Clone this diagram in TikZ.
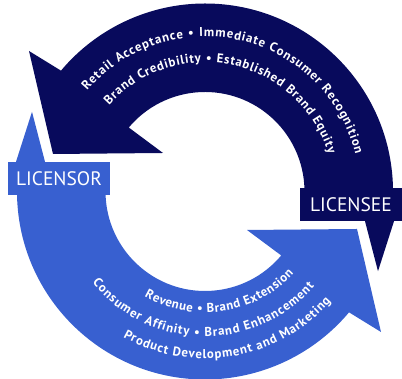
\documentclass[tikz,border=0pt]{standalone}
\usepackage{fontspec}
\setmainfont{PT Sans}
\usetikzlibrary{decorations.text}
\definecolor{navy}{RGB}{8,10,92}
\definecolor{royal}{RGB}{56,96,208}
\newcommand\arcfont{\fontsize{12.8}{12.8}\selectfont\bfseries}
\begin{document}
\begin{tikzpicture}[x=1pt,y=1pt,
  callout/.style={fill=#1, text=white, minimum width=102pt, minimum height=33pt,
    inner sep=0pt, font=\fontsize{19.5}{19.5}\selectfont},
  curved/.style={decorate, decoration={text along path, text color=white,
    text align=fit to path, text={|\arcfont|#1}}}]
\useasboundingbox (0,0) rectangle (402,379);
\begin{scope}[shift={(205,187.5)}]
  % upper (licensee) arrow
  \fill[navy] (0:188) arc[start angle=0, end angle=140, radius=188]
    -- (-176,140.5) -- (-152,37.5) -- (-42,38.5) -- (140:99.5)
    arc[start angle=140, end angle=0, radius=99.5] -- cycle;
  % lower (licensor) arrow, the same shape turned half a turn
  \fill[royal, rotate=180] (0:188) arc[start angle=0, end angle=140, radius=188]
    -- (-176,140.5) -- (-152,37.5) -- (-42,38.5) -- (140:99.5)
    arc[start angle=140, end angle=0, radius=99.5] -- cycle;
  % texts along the upper arrow
  \path[curved={Retail Acceptance • Immediate Consumer Recognition}]
    (139.5:155) arc[start angle=139.5, end angle=13.9, radius=155];
  \path[curved={Brand Credibility • Established Brand Equity}]
    (138:129) arc[start angle=138, end angle=17, radius=129];
  % texts along the lower arrow
  \path[curved={Revenue • Brand Extension}]
    (240:121) arc[start angle=240, end angle=317.2, radius=121];
  \path[curved={Consumer Affinity • Brand Enhancement}]
    (219:145) arc[start angle=219, end angle=319, radius=145];
  \path[curved={Product Development and Marketing}]
    (240.6:167) arc[start angle=240.6, end angle=318.9, radius=167];
\end{scope}
% party labels with their pointers
\node[callout=navy] (licensee) at (351,174.5) {LICENSEE};
\fill[navy] ([xshift=14pt]licensee.south) -- ([xshift=43pt]licensee.south)
  -- ([xshift=27pt,yshift=-50pt]licensee.south) -- cycle;
\node[callout=royal] (licensor) at (59,200.5) {LICENSOR};
\fill[royal] ([xshift=-14pt]licensor.north) -- ([xshift=-43pt]licensor.north)
  -- ([xshift=-27pt,yshift=50pt]licensor.north) -- cycle;
\end{tikzpicture}
\end{document}
